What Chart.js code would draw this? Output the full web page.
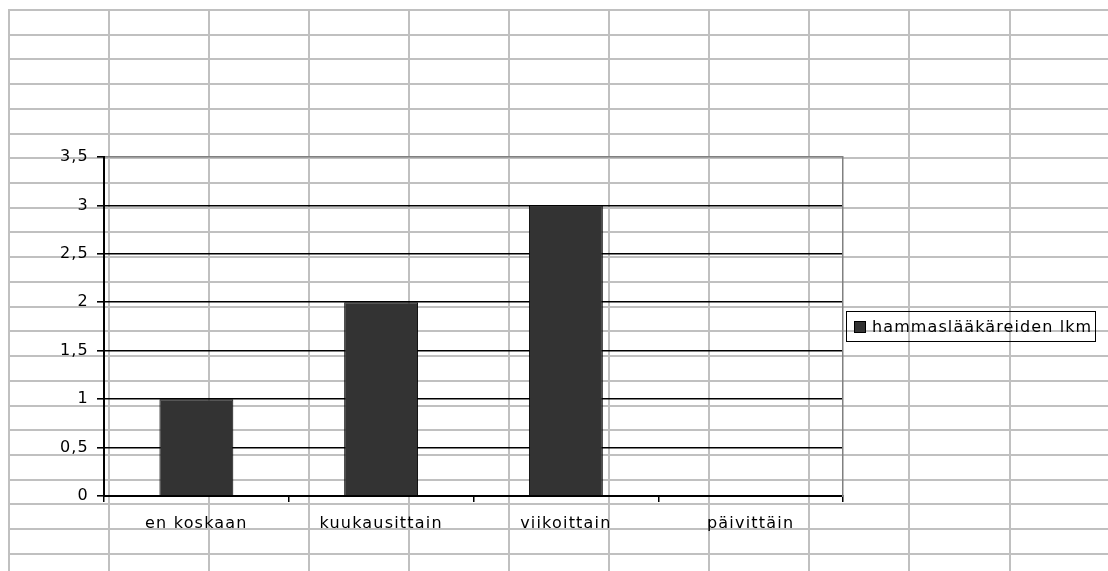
<!DOCTYPE html>
<html>
<head>
<meta charset="utf-8">
<script src="https://cdn.jsdelivr.net/npm/chart.js@4.4.1/dist/chart.umd.min.js"></script>
<style>
  html, body { margin: 0; padding: 0; background: #fff; }
  #wrap { position: relative; width: 1108px; height: 571px; overflow: hidden; }
  #legend {
    position: absolute; left: 846px; top: 311px; width: 248px; height: 29px;
    border: 1px solid #000; display: flex; align-items: center;
    font: 16px "DejaVu Sans", sans-serif; letter-spacing: 1.1px; color: #000;
  }
  #legend .box { width: 10px; height: 10px; margin: 0 6px 0 7px; border: 1px solid #000; }
</style>
</head>
<body>
<div id="wrap">
  <canvas id="chart" width="1108" height="571"></canvas>
  <div id="legend"></div>
</div>
<script>
// data
const categories = ['en koskaan', 'kuukausittain', 'viikoittain', 'päivittäin'];
const seriesLabel = 'hammaslääkäreiden lkm';
const counts = [1, 2, 3, 0];
const yMin = 0;
const yMax = 3.5;
const yStep = 0.5;

const FONT = '"DejaVu Sans", sans-serif';
const SPACING = '1.2px';

Chart.defaults.font.family = FONT;
Chart.defaults.font.size = 16;
Chart.defaults.color = '#000';

// spreadsheet cells behind the (transparent) chart
const sheetGrid = {
  id: 'sheetGrid',
  beforeLayout(chart) { chart.ctx.letterSpacing = SPACING; },
  beforeDraw(chart) {
    const ctx = chart.ctx;
    ctx.save();
    ctx.fillStyle = '#fff';
    ctx.fillRect(0, 0, chart.width, chart.height);
    ctx.fillStyle = '#c0c0c0';
    for (let k = 0; k < 24; k++) {
      const y = Math.round(9 + 24.72 * k);
      ctx.fillRect(8, y, chart.width - 8, 2);
    }
    for (let k = 0; k < 12; k++) {
      const x = Math.round(8 + 100.05 * k);
      ctx.fillRect(x, 9, 2, chart.height - 9);
    }
    ctx.restore();
    ctx.letterSpacing = SPACING;
  }
};

const chart = new Chart(document.getElementById('chart'), {
  type: 'bar',
  data: {
    labels: categories,
    datasets: [{
      label: seriesLabel,
      data: counts,
      backgroundColor: '#333333',
      borderColor: '#000',
      borderWidth: 1,
      barPercentage: 0.4,
      categoryPercentage: 1
    }]
  },
  options: {
    responsive: false,
    animation: false,
    layout: { padding: { left: 0, top: 157, right: 265, bottom: 0 } },
    plugins: {
      legend: { display: false },
      tooltip: { enabled: false }
    },
    scales: {
      x: {
        offset: true,
        grid: {
          offset: true,
          drawOnChartArea: false,
          drawTicks: true,
          tickLength: 6,
          tickColor: '#000',
          lineWidth: 1.5
        },
        border: { color: '#000', width: 2 },
        ticks: { padding: 12, maxRotation: 0, font: { size: 16 } },
        afterFit(s) { s.height = 75; }
      },
      y: {
        min: yMin,
        max: yMax,
        ticks: {
          stepSize: yStep,
          padding: 8,
          font: { size: 16 },
          callback: v => String(v).replace('.', ',')
        },
        grid: {
          color: c => (c.tick && c.tick.value === yMax) ? '#808080' : '#000',
          lineWidth: 1.6,
          tickLength: 7,
          tickColor: '#000'
        },
        border: { color: '#000', width: 2 },
        afterFit(s) { s.width = 104; }
      },
      y2: {
        position: 'right',
        min: yMin,
        max: yMax,
        ticks: { display: false },
        grid: { drawOnChartArea: false, drawTicks: false },
        border: { color: '#808080', width: 1.5 },
        afterFit(s) { s.width = 0; }
      }
    }
  },
  plugins: [sheetGrid]
});

// legend box built from the chart's own legend items
const legendEl = document.getElementById('legend');
chart.options.plugins.legend.labels.generateLabels(chart).forEach(item => {
  const box = document.createElement('span');
  box.className = 'box';
  box.style.background = item.fillStyle;
  const txt = document.createElement('span');
  txt.textContent = item.text;
  legendEl.appendChild(box);
  legendEl.appendChild(txt);
});
</script>
</body>
</html>
